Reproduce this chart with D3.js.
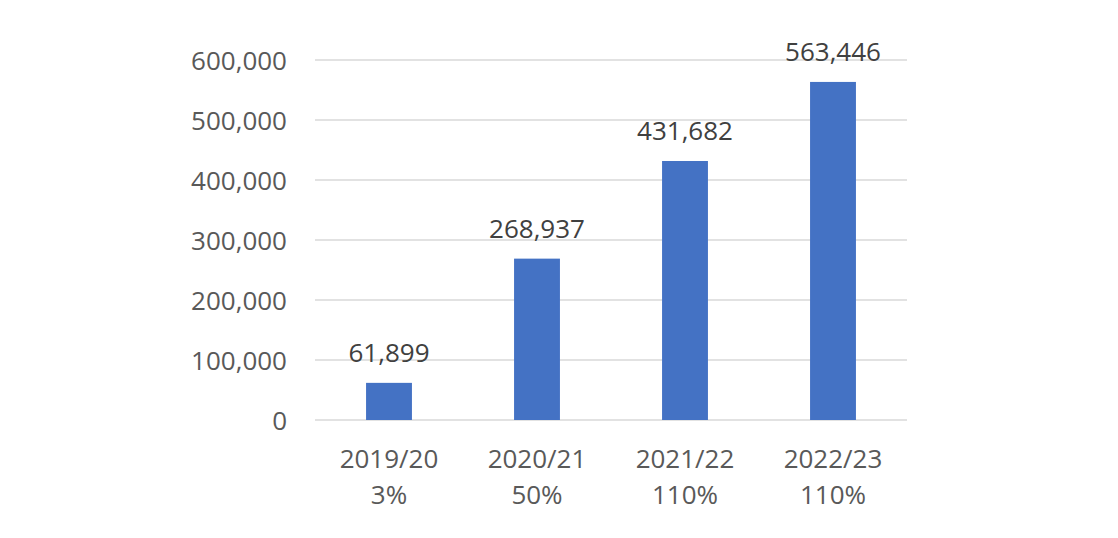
<!DOCTYPE html>
<html lang="en">
<head>
<meta charset="UTF-8">
<title>Bar chart</title>
<style>
  body { margin: 0; background: #fff; }
  text { font-family: "Open Sans", "Noto Sans", sans-serif; fill: #595959; }
  text.vlab { fill: #404040; }
</style>
<script src="https://d3js.org/d3.v7.min.js"></script>
</head>
<body>
<svg width="1118" height="538"></svg>
<script>
const years = ['2019/20', '2020/21', '2021/22', '2022/23'];
const growth = ['3%', '50%', '110%', '110%'];
const values = [61899, 268937, 431682, 563446];
const yTicks = [0, 100000, 200000, 300000, 400000, 500000, 600000];

const svg = d3.select("svg");
const plotLeft = 315, plotRight = 907, plotTop = 60, plotBottom = 420;
const fs = 26;

const x = d3.scaleBand().domain(years).range([plotLeft, plotRight]).paddingInner(0.69).paddingOuter(0.345);
const y = d3.scaleLinear().domain([0, 600000]).range([plotBottom, plotTop]);
const fmt = d3.format(",");

// gridlines
svg.selectAll(".grid")
  .data(yTicks)
  .enter().append("line")
  .attr("x1", plotLeft).attr("x2", plotRight)
  .attr("y1", d => y(d)).attr("y2", d => y(d))
  .attr("stroke", "#d9d9d9").attr("stroke-width", 1.5);

// y labels
svg.selectAll(".ylab")
  .data(yTicks)
  .enter().append("text")
  .attr("x", 287).attr("y", d => y(d) + 1).attr("dy", "0.35em")
  .attr("text-anchor", "end").attr("font-size", fs)
  .text(d => fmt(d));

// bars
svg.selectAll("rect")
  .data(values)
  .enter().append("rect")
  .attr("x", (d, i) => x(years[i]))
  .attr("width", x.bandwidth())
  .attr("y", d => y(d))
  .attr("height", d => plotBottom - y(d))
  .attr("fill", "#4472c4");

// value labels
svg.selectAll(".vlab")
  .data(values)
  .enter().append("text")
  .attr("class", "vlab")
  .attr("x", (d, i) => x(years[i]) + x.bandwidth() / 2)
  .attr("y", d => y(d) - 21)
  .attr("text-anchor", "middle").attr("font-size", fs)
  .text(d => fmt(d));

// category labels
const cat = svg.selectAll(".xlab")
  .data(years)
  .enter().append("text")
  .attr("text-anchor", "middle").attr("font-size", fs);
cat.append("tspan").attr("x", d => x(d) + x.bandwidth() / 2).attr("y", 468).text(d => d);
cat.append("tspan").attr("x", d => x(d) + x.bandwidth() / 2).attr("y", 504).text((d, i) => growth[i]);
</script>
</body>
</html>
